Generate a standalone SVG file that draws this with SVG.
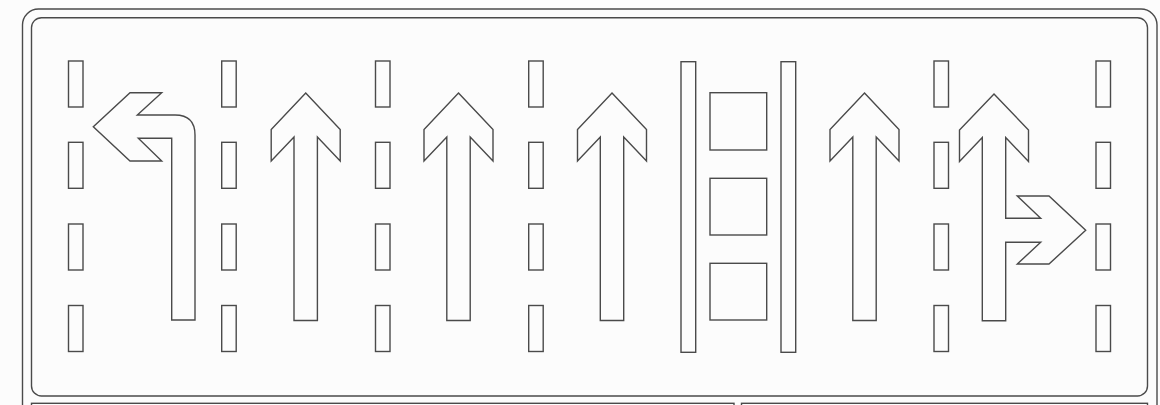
<svg xmlns="http://www.w3.org/2000/svg" width="1160" height="405" viewBox="0 0 1160 405">
<style>
.s{fill:none;stroke:#4a4a4a;stroke-width:1.4;stroke-linejoin:miter}
.d{fill:none;stroke:#4a4a4a;stroke-width:1.4}
</style>
<defs>
<rect id="dash" x="0" y="0" width="14.5" height="46"/>
<g id="dcol" class="d">
<use href="#dash" y="61"/>
<use href="#dash" y="142.3"/>
<use href="#dash" y="224"/>
<use href="#dash" y="305.5"/>
</g>
<path id="straight" d="M0,93 L34.5,129.5 L34.5,161 L11.7,137 L11.7,320.5 L-11.7,320.5 L-11.7,137 L-34.5,161 L-34.5,129.5 Z"/>
</defs>
<rect width="1160" height="405" fill="#fcfcfc"/>
<g id="frame">
<rect class="s" x="22.5" y="9" width="1134.5" height="430" rx="16"/>
<rect class="s" x="31.5" y="17.7" width="1116" height="378.3" rx="10"/>
<rect class="s" x="31.5" y="403.3" width="702.5" height="30"/>
<rect class="s" x="741.5" y="403.3" width="406" height="30"/>
</g>
<g id="lane-lines">
<use href="#dcol" x="68.5"/>
<use href="#dcol" x="221.7"/>
<use href="#dcol" x="375.5"/>
<use href="#dcol" x="528.7"/>
<use href="#dcol" x="934"/>
<use href="#dcol" x="1096"/>
</g>
<g id="median">
<rect class="s" x="681" y="61.7" width="14.7" height="290.6"/>
<rect class="s" x="781" y="61.7" width="14.7" height="290.6"/>
<rect class="s" x="710" y="92.7" width="56.7" height="57.3"/>
<rect class="s" x="710" y="178.3" width="56.7" height="56.7"/>
<rect class="s" x="710" y="263.3" width="56.7" height="56.7"/>
</g>
<g id="arrow-left">
<path class="s" d="M195,320 L195,135 Q195,115 175,115 L137.3,115 L161.7,92.7 L130,92.7 L93.3,126.7 L130,161 L161.7,161 L138.3,138.3 L171.7,138.3 L171.7,320 Z"/>
</g>
<g id="arrow-straight-1"><use class="s" href="#straight" x="305.7"/></g>
<g id="arrow-straight-2"><use class="s" href="#straight" x="458.5"/></g>
<g id="arrow-straight-3"><use class="s" href="#straight" x="612"/></g>
<g id="arrow-straight-4"><use class="s" href="#straight" x="864.5"/></g>
<g id="arrow-straight-right">
<path class="s" d="M994,94 L1028.5,130 L1028.5,161.5 L1005.7,137.5 L1005.7,218.3 L1040.7,218.3 L1017.3,196 L1049,196 L1085.7,230.3 L1049,264 L1017.3,264 L1040.7,242.3 L1005.7,242.3 L1005.7,320.7 L982.3,320.7 L982.3,137.5 L959.5,161.5 L959.5,130 Z"/>
</g>
</svg>
